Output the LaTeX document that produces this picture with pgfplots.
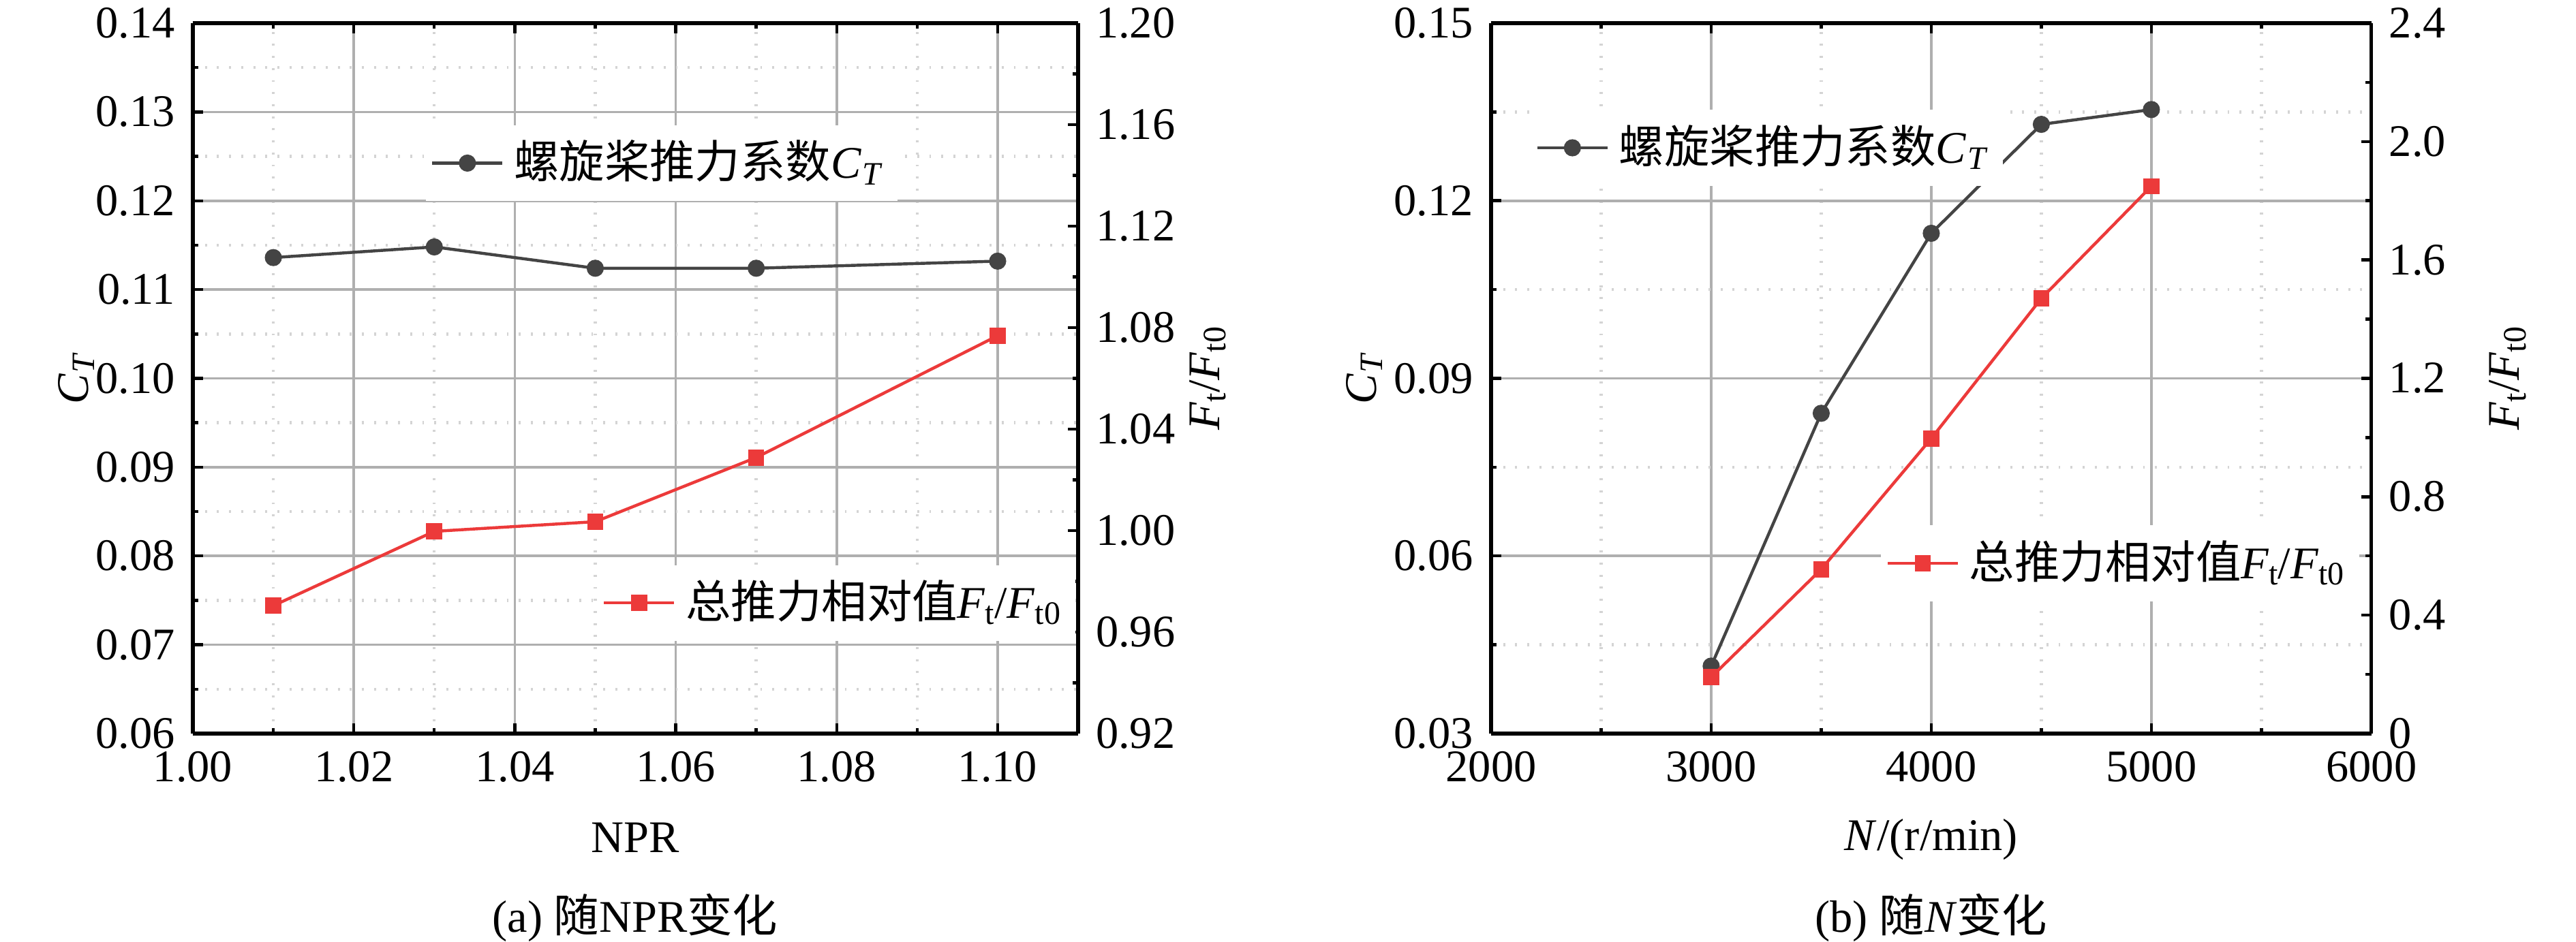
\documentclass[border=0pt]{standalone}
\usepackage{amsmath}
\usepackage{fontspec}
\setmainfont{Liberation Serif}
\newfontfamily\cjk{Noto Sans CJK SC}
\usepackage{pgfplots}
\pgfplotsset{compat=1.18}
\definecolor{ctgray}{RGB}{68,68,68}
\definecolor{ftred}{RGB}{236,58,58}
\definecolor{gmaj}{RGB}{175,175,175}
\definecolor{gmin}{RGB}{212,212,212}
\newcommand{\CT}{\textit{C}\kern0.02em\raisebox{-0.3ex}{\fontsize{6.5}{7}\selectfont\textit{T}}}
\newcommand{\FF}{\textit{F}\raisebox{-0.3ex}{\fontsize{6.5}{7}\selectfont t}/\textit{F}\raisebox{-0.3ex}{\fontsize{6.5}{7}\selectfont t0}}
\pgfplotsset{
 base/.style={
  scale only axis, width=6.186cm, height=4.967cm, anchor=south west,
  font=\fontsize{9}{11}\selectfont,
  tick label style={font=\fontsize{9}{11}\selectfont},
  label style={font=\fontsize{9}{11}\selectfont},
  /pgf/number format/assume math mode=true,
  xticklabel={\pgfmathprintnumber[assume math mode=true]{\tick}},
  yticklabel={\pgfmathprintnumber[assume math mode=true]{\tick}},
  scaled ticks=false,
  tick align=inside,
  major tick length=0.07cm, minor tick length=0.04cm,
  every tick/.style={black, line width=0.6pt},
  axis line style={line width=0.7pt},
  legend style={draw=none, fill=white, inner sep=1pt, font=\fontsize{9}{11}\selectfont, anchor=west},
  legend cell align=left,
  legend image code/.code={\draw[mark repeat=2,mark phase=2,##1] plot coordinates {(0cm,0cm) (0.245cm,0cm) (0.49cm,0cm)};},
 },
 ctline/.style={color=ctgray, line width=0.6pt, mark=*, mark size=1.4pt, mark options={fill=ctgray, draw=ctgray, solid}},
 ftline/.style={color=ftred, line width=0.6pt, mark=square*, mark size=1.3pt, mark options={fill=ftred, draw=ftred, solid}},
 gridded/.style={grid=both, major grid style={gmaj, line width=0.5pt}, minor grid style={gmin, dotted, line width=0.6pt}},
 fix2/.style={/pgf/number format/fixed, /pgf/number format/fixed zerofill, /pgf/number format/precision=2},
}
\begin{document}
\begin{tikzpicture}
\useasboundingbox (0,0) rectangle (18cm,6.581cm);
% ---------- panel (a) ----------
\begin{axis}[base, gridded, at={(1.3476cm,1.4524cm)},
  xmin=1.00, xmax=1.11, ymin=0.06, ymax=0.14,
  axis y line*=left,
  xtick={1.00,1.02,1.04,1.06,1.08,1.10}, minor x tick num=1,
  ytick={0.06,0.07,0.08,0.09,0.10,0.11,0.12,0.13,0.14}, minor y tick num=1,
  xticklabel style={fix2}, yticklabel style={fix2},
  xlabel={NPR},
  every axis x label/.style={at={(axis description cs:0.5,-0.146)}, anchor=center},
  ylabel={\CT},
  every axis y label/.style={at={(axis description cs:-0.1316,0.5)}, rotate=90, anchor=center},
  legend style={at={(0.262,0.803)}}]
\addplot[ctline] coordinates {(1.01,0.1136) (1.03,0.1148) (1.05,0.1124) (1.07,0.1124) (1.10,0.1132)};
\addlegendentry{{\cjk 螺旋桨推力系数}\CT}
\end{axis}
\begin{axis}[base, at={(1.3476cm,1.4524cm)},
  xmin=1.00, xmax=1.11, ymin=0.92, ymax=1.20,
  axis y line*=right, axis x line=none,
  ytick={0.92,0.96,1.00,1.04,1.08,1.12,1.16,1.20}, minor y tick num=1,
  yticklabel style={fix2},
  ylabel={\FF},
  every axis y label/.style={at={(axis description cs:1.1463,0.5)}, rotate=90, anchor=center},
  legend style={at={(0.456,0.184)}}]
\addplot[ftline] coordinates {(1.01,0.9704) (1.03,0.9997) (1.05,1.0035) (1.07,1.0288) (1.10,1.0768)};
\addlegendentry{{\cjk 总推力相对值}\FF}
\end{axis}
% ---------- panel (b) ----------
\begin{axis}[base, gridded, at={(10.419cm,1.4524cm)}, width=6.152cm,
  xmin=2000, xmax=6000, ymin=0.03, ymax=0.15,
  axis y line*=left,
  xtick={2000,3000,4000,5000,6000}, minor x tick num=1,
  ytick={0.03,0.06,0.09,0.12,0.15}, minor y tick num=1,
  xticklabel style={/pgf/number format/set thousands separator={}}, yticklabel style={fix2},
  xlabel={\textit{N}/(r/min)},
  every axis x label/.style={at={(axis description cs:0.5,-0.149)}, anchor=center},
  ylabel={\CT},
  every axis y label/.style={at={(axis description cs:-0.144,0.5)}, rotate=90, anchor=center},
  legend style={at={(0.044,0.8245)}}]
\addplot[ctline] coordinates {(3000,0.0414) (3500,0.0841) (4000,0.1145) (4500,0.1329) (5000,0.1354)};
\addlegendentry{{\cjk 螺旋桨推力系数}\CT}
\end{axis}
\begin{axis}[base, at={(10.419cm,1.4524cm)}, width=6.152cm,
  xmin=2000, xmax=6000, ymin=0, ymax=2.4,
  axis y line*=right, axis x line=none,
  ytick={0,0.4,0.8,1.2,1.6,2.0,2.4}, yticklabels={0,0.4,0.8,1.2,1.6,2.0,2.4}, minor y tick num=1,
  ylabel={\FF},
  every axis y label/.style={at={(axis description cs:1.1548,0.5)}, rotate=90, anchor=center},
  legend style={at={(0.442,0.2397)}}]
\addplot[ftline] coordinates {(3000,0.1905) (3500,0.555) (4000,0.997) (4500,1.470) (5000,1.849)};
\addlegendentry{{\cjk 总推力相对值}\FF}
\end{axis}
\node[font=\fontsize{9}{11}\selectfont] at (4.438cm,0.1667cm) {(a) {\cjk 随}NPR{\cjk 变化}};
\node[font=\fontsize{9}{11}\selectfont] at (13.495cm,0.1667cm) {(b) {\cjk 随}\textit{N}{\cjk 变化}};
\end{tikzpicture}
\end{document}
